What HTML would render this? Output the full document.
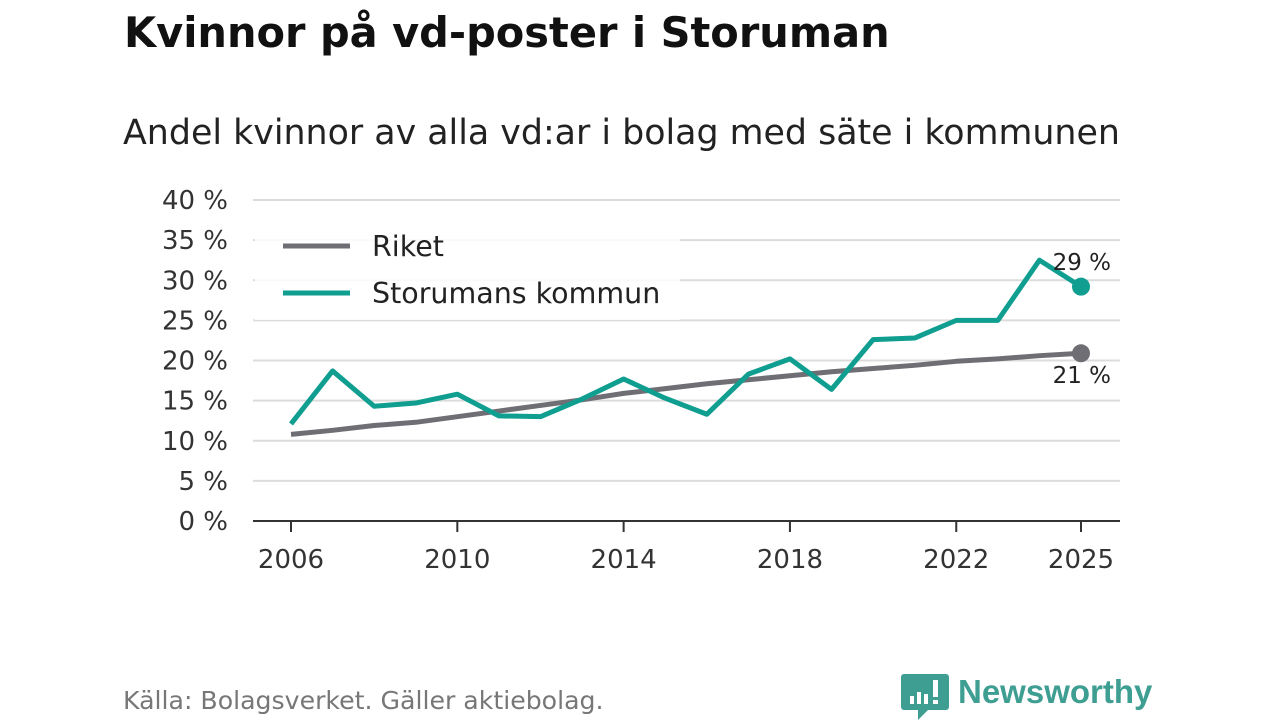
<!DOCTYPE html>
<html><head><meta charset="utf-8"><style>
body{margin:0;width:1280px;height:720px;background:#fff;font-family:"DejaVu Sans","Liberation Sans",sans-serif;overflow:hidden;position:relative}
.t{position:absolute;white-space:nowrap}
</style></head><body>
<div class="t" style="left:124px;top:8px;font-size:41.5px;font-weight:bold;color:#111;font-family:'DejaVu Sans',sans-serif">Kvinnor på vd-poster i Storuman</div>
<div class="t" style="left:123px;top:113px;font-size:34.8px;color:#222;font-family:'DejaVu Sans',sans-serif">Andel kvinnor av alla vd:ar i bolag med säte i kommunen</div>
<svg id="c" width="1280" height="720" style="position:absolute;left:0;top:0"></svg>
<div class="t" style="left:123px;top:686px;font-size:25.2px;color:#777;font-family:'DejaVu Sans',sans-serif">Källa: Bolagsverket. Gäller aktiebolag.</div>
<svg width="260" height="60" style="position:absolute;left:900px;top:666px">
<path d="M4 8 h42 a3 3 0 0 1 3 3 v30 a3 3 0 0 1 -3 3 h-18 l-10 10 v-10 h-14 a3 3 0 0 1 -3 -3 v-30 a3 3 0 0 1 3 -3z" fill="#3e9e92"/>
<rect x="10" y="30" width="4" height="8" fill="#fff"/><rect x="17" y="26" width="4" height="12" fill="#fff"/><rect x="24" y="28" width="4" height="10" fill="#fff"/><rect x="33" y="14" width="5" height="17" fill="#fff"/><rect x="33" y="34" width="5" height="4" fill="#fff"/>
<text x="58" y="37" font-family="Liberation Sans,sans-serif" font-size="33" font-weight="bold" fill="#3e9e92">Newsworthy</text>
</svg>
<script>
const years=[2006,2007,2008,2009,2010,2011,2012,2013,2014,2015,2016,2017,2018,2019,2020,2021,2022,2023,2024,2025];
const riket=[10.8,11.3,11.9,12.3,13.0,13.7,14.4,15.1,15.9,16.5,17.1,17.6,18.1,18.6,19.0,19.4,19.9,20.2,20.6,20.9];
const storuman=[12.1,18.7,14.3,14.7,15.8,13.1,13.0,15.2,17.7,15.3,13.3,18.3,20.2,16.4,22.6,22.8,25.0,25.0,32.5,29.2];
const yTicks=[0,5,10,15,20,25,30,35,40];
const xTicks=[2006,2010,2014,2018,2022,2025];
const svg=document.getElementById('c');const NS='http://www.w3.org/2000/svg';
const x=v=>291+(v-2006)*(1081-291)/19;const y=v=>521-v*(521-200)/40;
function mk(t,a,p){const e=document.createElementNS(NS,t);for(const k in a)e.setAttribute(k,a[k]);(p||svg).appendChild(e);return e;}
yTicks.forEach(v=>{const l=mk('line',{x1:253,x2:1120,y1:y(v),y2:y(v),stroke:v?'#dcdcdc':'#333','stroke-width':2});


const t=mk('text',{x:228,y:y(v)+9,'text-anchor':'end','font-size':26,fill:'#333','font-family':'DejaVu Sans,sans-serif'});t.textContent=v+' %';

});
xTicks.forEach(v=>{const l=mk('line',{x1:x(v),x2:x(v),y1:521,y2:532,stroke:'#333','stroke-width':2});


const t=mk('text',{x:x(v),y:568,'text-anchor':'middle','font-size':26,fill:'#333','font-family':'DejaVu Sans,sans-serif'});t.textContent=v;

});
function line(d,c,n){const p=mk('polyline',{points:d.map((v,i)=>x(years[i])+','+y(v)).join(' '),fill:'none',stroke:c,'stroke-width':5,'stroke-linejoin':'round'});


const ci=mk('circle',{cx:x(years[years.length-1]),cy:y(d[d.length-1]),r:9,fill:c});

}
line(riket,'#6f6e75','riket-line');
line(storuman,'#0f9e8f','storuman-line');
const lb=mk('rect',{x:255,y:232,width:425,height:88,fill:'#fff','fill-opacity':0.85});


[['Riket','#6f6e75',246],['Storumans kommun','#0f9e8f',293]].forEach(([n,c,yy])=>{const l=mk('line',{x1:283,x2:350,y1:yy,y2:yy,stroke:c,'stroke-width':5});


const t=mk('text',{x:372,y:yy+10,'font-size':28.5,fill:'#222','font-family':'DejaVu Sans,sans-serif'});t.textContent=n;

});
const a=mk('text',{x:1111,y:270,'text-anchor':'end','font-size':23,fill:'#222','font-family':'DejaVu Sans,sans-serif'});a.textContent=Math.round(storuman[storuman.length-1])+' %';


const b=mk('text',{x:1111,y:383,'text-anchor':'end','font-size':23,fill:'#222','font-family':'DejaVu Sans,sans-serif'});b.textContent=Math.round(riket[riket.length-1])+' %';


</script>
</body></html>
